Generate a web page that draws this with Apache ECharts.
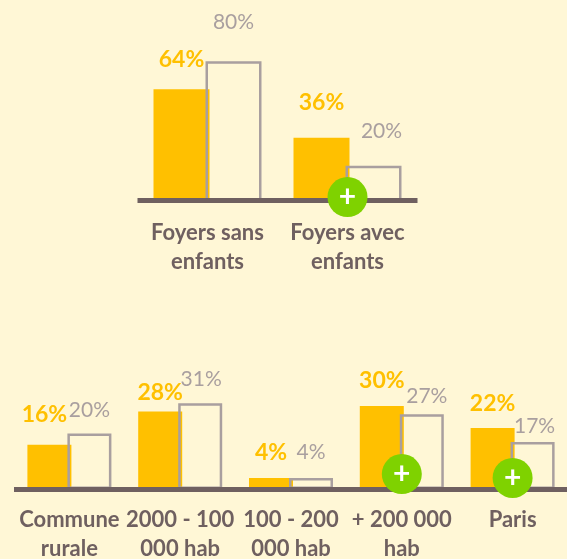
<!DOCTYPE html>
<html>
<head>
<meta charset="utf-8">
<style>
html,body{margin:0;padding:0;background:#FFF7D6;}
#chart{width:567px;height:559px;}
</style>
<script src="https://cdn.jsdelivr.net/npm/echarts@6/dist/echarts.min.js"></script>
</head>
<body>
<div id="chart"></div>
<script>
// foyers
var foyersCats = ['Foyers sans\nenfants', 'Foyers avec\nenfants'];
var foyersA = [64, 36];
var foyersB = [80, 20];
var foyersPlus = [null, 2];
// taille de commune
var villeCats = ['Commune\nrurale', '2000 - 100\n000 hab', '100 - 200\n000 hab', '+ 200 000\nhab', 'Paris'];
var villeA = [16, 28, 4, 30, 22];
var villeB = [20, 31, 4, 27, 17];
var villePlus = [null, null, null, 5.4, 4];

// decalage des etiquettes [x, y]
var foyersAOffset = [[0, -14], [0, -20]];
var foyersBOffset = [[0, -25], [8, -20]];
var villeAOffset = [[-5, -15], [0, -3], [0, -10], [0, -10], [0, -9]];
var villeBOffset = [[0, -9], [1, -9], [0, -11], [5, -3], [2, -1]];

var yellow = '#FFC000', grey = '#A99F9F', brown = '#6F6060', green = '#7FD200';

function barData(values, offsets) {
    return values.map(function (v, i) {
        return {value: v, label: {offset: offsets[i]}};
    });
}

function filled(idx, values, offsets, width) {
    return {
        type: 'bar', xAxisIndex: idx, yAxisIndex: idx, z: 2,
        data: barData(values, offsets),
        barWidth: width,
        barGap: (-4 / width * 100) + '%',
        itemStyle: {color: yellow},
        label: {show: true, position: 'top', distance: 4, formatter: '{c}%', color: yellow,
            fontFamily: 'Lato', fontWeight: 'bold', fontSize: 23}
    };
}

function outlined(idx, values, offsets, width) {
    return {
        type: 'bar', xAxisIndex: idx, yAxisIndex: idx, z: 3,
        data: barData(values, offsets),
        barWidth: width,
        itemStyle: {color: 'rgba(0,0,0,0)', borderColor: grey, borderWidth: 2.5},
        label: {show: true, position: 'top', distance: 4, formatter: '{c}%', color: grey,
            fontFamily: 'Lato', fontSize: 21}
    };
}

function plus(idx, values) {
    return {
        type: 'scatter', xAxisIndex: idx, yAxisIndex: idx, z: 6,
        data: values,
        symbol: 'circle', symbolSize: 40,
        itemStyle: {color: green, opacity: 1},
        label: {show: true, position: 'inside', formatter: '+', color: '#fff',
            fontFamily: 'Lato', fontWeight: 'bold', fontSize: 30}
    };
}

function catAxis(idx, cats, margin) {
    return {
        type: 'category', gridIndex: idx, data: cats, z: 4,
        axisTick: {show: false},
        axisLine: {lineStyle: {color: brown, width: 5, cap: 'butt'}},
        axisLabel: {interval: 0, margin: margin, lineHeight: 29, color: brown,
            fontFamily: 'Lato', fontWeight: 'bold', fontSize: 22}
    };
}

var chart = echarts.init(document.getElementById('chart'));
chart.setOption({
    backgroundColor: '#FFF7D6',
    animation: false,
    grid: [
        {left: 137.5, width: 280, top: 26.5, height: 174, outerBoundsMode: 'none'},
        {left: 14, width: 554, top: 350.5, height: 138.5, outerBoundsMode: 'none'}
    ],
    xAxis: [catAxis(0, foyersCats, 18), catAxis(1, villeCats, 16)],
    yAxis: [
        {type: 'value', gridIndex: 0, min: 0, max: 100, show: false},
        {type: 'value', gridIndex: 1, min: 0, max: 50, show: false}
    ],
    series: [
        filled(0, foyersA, foyersAOffset, 56),
        outlined(0, foyersB, foyersBOffset, 56),
        plus(0, foyersPlus),
        filled(1, villeA, villeAOffset, 44),
        outlined(1, villeB, villeBOffset, 44),
        plus(1, villePlus)
    ]
});
</script>
</body>
</html>
